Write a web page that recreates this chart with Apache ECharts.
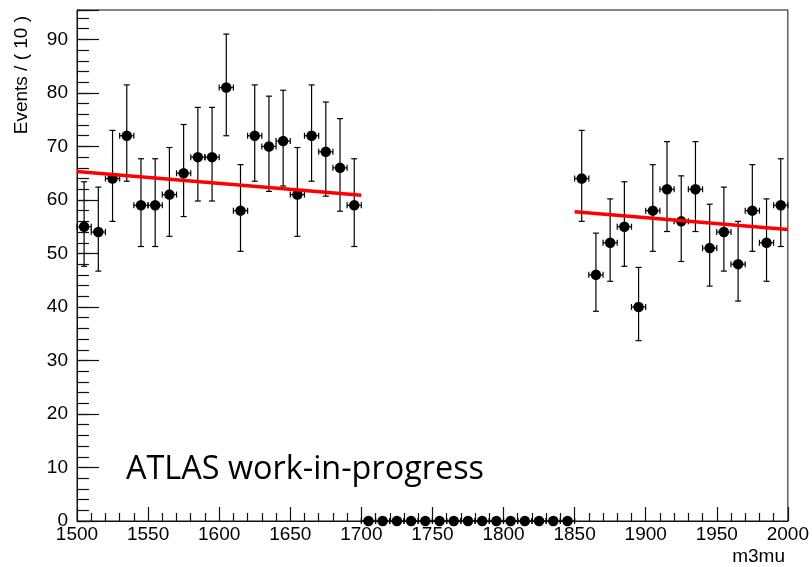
<!DOCTYPE html>
<html>
<head>
<meta charset="utf-8">
<title>m3mu</title>
<script src="https://cdn.jsdelivr.net/npm/echarts@6/dist/echarts.min.js"></script>
<style>
  html, body { margin: 0; padding: 0; background: #fff; }
  #main { width: 812px; height: 567px; }
</style>
</head>
<body>
<div id="main"></div>
<script>
// bin centres, 10 GeV bins
const binCenters = [
    1505, 1515, 1525, 1535, 1545, 1555, 1565, 1575, 1585, 1595,
    1605, 1615, 1625, 1635, 1645, 1655, 1665, 1675, 1685, 1695,
    1705, 1715, 1725, 1735, 1745, 1755, 1765, 1775, 1785, 1795,
    1805, 1815, 1825, 1835, 1845, 1855, 1865, 1875, 1885, 1895,
    1905, 1915, 1925, 1935, 1945, 1955, 1965, 1975, 1985, 1995
];
// events per bin
const counts = [
    55, 54, 64, 72, 59, 59, 61, 65, 68, 68,
    81, 58, 72, 70, 71, 61, 72, 69, 66, 59,
    0, 0, 0, 0, 0, 0, 0, 0, 0, 0,
    0, 0, 0, 0, 0, 64, 46, 52, 55, 40,
    58, 62, 56, 62, 51, 54, 48, 58, 52, 59
];
// error bar ends (null = no vertical bar)
const errLow = [
    47.6, 46.7, 56.0, 63.5, 51.3, 51.3, 53.2, 56.9, 59.8, 59.8,
    72.0, 50.4, 63.5, 61.6, 62.6, 53.2, 63.5, 60.7, 57.9, 51.3,
    null, null, null, null, null, null, null, null, null, null,
    null, null, null, null, null, 56.0, 39.2, 44.8, 47.6, 33.7,
    50.4, 54.1, 48.5, 54.1, 43.9, 46.7, 41.1, 50.4, 44.8, 51.3
];
const errHigh = [
    63.4, 62.4, 73.0, 81.5, 67.7, 67.7, 69.8, 74.1, 77.3, 77.3,
    91.0, 66.6, 81.5, 79.4, 80.5, 69.8, 81.5, 78.3, 75.2, 67.7,
    null, null, null, null, null, null, null, null, null, null,
    null, null, null, null, null, 73.0, 53.8, 60.2, 63.4, 47.4,
    66.6, 70.9, 64.5, 70.9, 59.2, 62.4, 56.0, 66.6, 60.2, 67.7
];
const binHalf = 5;
// fit curves in the two sidebands
const fitLeft = [[1500, 65.3], [1700, 60.9]];
const fitRight = [[1850, 57.8], [2000, 54.5]];

const chart = echarts.init(document.getElementById('main'));

const font = 'Liberation Sans, Arial, Helvetica, sans-serif';
const ink = '#000';
const frame = '#111';

const points = binCenters.map(function (x, i) { return [x, counts[i]]; });
const bars = binCenters.map(function (x, i) {
    return [x, counts[i], errLow[i] === null ? '-' : errLow[i], errHigh[i] === null ? '-' : errHigh[i]];
});

function renderErr(params, api) {
    const x = api.value(0);
    const y = api.value(1);
    const lo = api.value(2);
    const hi = api.value(3);
    const c = api.coord([x, y]);
    const l = api.coord([x - binHalf, y]);
    const r = api.coord([x + binHalf, y]);
    const st = { stroke: ink, lineWidth: 1.2 };
    const kids = [
        { type: 'line', shape: { x1: l[0], y1: c[1], x2: r[0], y2: c[1] }, style: st },
        { type: 'line', shape: { x1: l[0], y1: c[1] - 3, x2: l[0], y2: c[1] + 3 }, style: st },
        { type: 'line', shape: { x1: r[0], y1: c[1] - 3, x2: r[0], y2: c[1] + 3 }, style: st }
    ];
    if (!isNaN(lo) && !isNaN(hi)) {
        const a = api.coord([x, lo]);
        const b = api.coord([x, hi]);
        kids.push({ type: 'line', shape: { x1: c[0], y1: a[1], x2: c[0], y2: b[1] }, style: st });
        kids.push({ type: 'line', shape: { x1: c[0] - 3, y1: a[1], x2: c[0] + 3, y2: a[1] }, style: st });
        kids.push({ type: 'line', shape: { x1: c[0] - 3, y1: b[1], x2: c[0] + 3, y2: b[1] }, style: st });
    }
    return { type: 'group', children: kids };
}

const option = {
    animation: false,
    backgroundColor: '#fff',
    grid: {
        left: 77, right: 23, top: 10, bottom: 46,
        show: true, borderColor: frame, borderWidth: 1, backgroundColor: 'transparent'
    },
    xAxis: {
        type: 'value',
        min: 1500,
        max: 2000,
        interval: 50,
        axisLine: { show: true, lineStyle: { color: frame, width: 1 } },
        axisTick: { show: true, inside: true, length: 14, lineStyle: { color: frame, width: 1.2 } },
        minorTick: { show: true, splitNumber: 5, length: 8, lineStyle: { color: frame, width: 1.2 } },
        axisLabel: {
            color: '#000', fontSize: 19, fontFamily: font, margin: 4,
            formatter: function (v) { return String(v); }
        },
        splitLine: { show: false }
    },
    yAxis: [{
        // minor ticks every 2
        type: 'value',
        min: 0,
        max: 95.5,
        interval: 2,
        position: 'left',
        axisLine: { show: true, lineStyle: { color: frame, width: 1 } },
        axisTick: { show: true, inside: true, length: 12, lineStyle: { color: frame, width: 1.2 } },
        axisLabel: { show: false },
        splitLine: { show: false }
    }, {
        // major ticks + labels
        type: 'value',
        min: 0,
        max: 95.5,
        interval: 10,
        position: 'left',
        axisLine: { show: false },
        axisTick: { show: true, inside: true, length: 22, lineStyle: { color: frame, width: 1.2 } },
        axisLabel: {
            color: '#000', fontSize: 19, fontFamily: font, margin: 9,
            formatter: function (v) { return v % 10 === 0 ? String(v) : ''; }
        },
        splitLine: { show: false }
    }],
    series: [
        {
            type: 'custom',
            renderItem: renderErr,
            data: bars,
            encode: { x: 0, y: 1 },
            z: 3
        },
        {
            type: 'scatter',
            data: points,
            symbol: 'circle',
            symbolSize: 10.5,
            itemStyle: { color: '#000', opacity: 1 },
            z: 4
        },
        {
            type: 'line',
            data: fitLeft,
            showSymbol: false,
            lineStyle: { color: '#ff0000', width: 3.5 },
            z: 5
        },
        {
            type: 'line',
            data: fitRight,
            showSymbol: false,
            lineStyle: { color: '#ff0000', width: 3.5 },
            z: 5
        }
    ],
    graphic: [
        {
            type: 'text',
            x: 22, y: 16,
            rotation: Math.PI / 2,
            style: {
                text: 'Events / ( 10 )',
                font: '19px ' + font,
                fill: '#000',
                align: 'right',
                verticalAlign: 'middle'
            }
        },
        {
            type: 'text',
            x: 785, y: 557,
            style: {
                text: 'm3mu',
                font: '19px ' + font,
                fill: '#000',
                align: 'right',
                verticalAlign: 'middle'
            }
        },
        {
            type: 'text',
            x: 126, y: 470,
            style: {
                text: 'ATLAS work-in-progress',
                font: '32.4px "Open Sans", Lato, sans-serif',
                fill: '#000',
                align: 'left',
                verticalAlign: 'middle'
            }
        }
    ]
};

chart.setOption(option);
</script>
</body>
</html>
